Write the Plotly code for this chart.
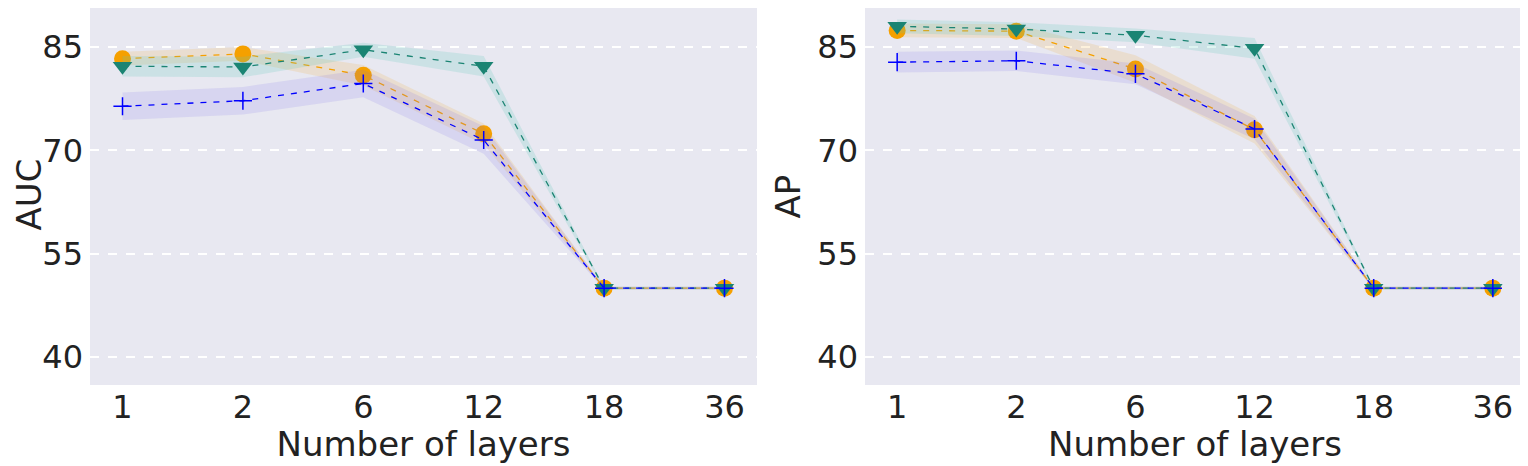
import plotly.graph_objects as go

layers = ["1", "2", "6", "12", "18", "36"]

# AUC panel
auc_orange = [83.3, 84.0, 80.9, 72.4, 50.0, 50.0]
auc_orange_sd = [1.0, 1.0, 1.5, 1.5, 0.2, 0.2]
auc_teal = [82.2, 82.1, 84.6, 82.2, 50.0, 50.0]
auc_teal_sd = [1.5, 1.5, 1.0, 1.5, 0.2, 0.2]
auc_blue = [76.4, 77.2, 79.7, 71.5, 50.0, 50.0]
auc_blue_sd = [2.0, 2.0, 2.0, 2.0, 0.2, 0.2]

# AP panel
ap_orange = [87.4, 87.3, 81.8, 73.0, 50.0, 50.0]
ap_orange_sd = [1.0, 1.0, 2.0, 2.0, 0.2, 0.2]
ap_teal = [88.0, 87.6, 86.7, 84.8, 50.0, 50.0]
ap_teal_sd = [1.0, 1.0, 1.0, 1.5, 0.2, 0.2]
ap_blue = [82.8, 83.0, 81.1, 73.1, 50.0, 50.0]
ap_blue_sd = [1.5, 1.5, 1.5, 1.5, 0.2, 0.2]

series_style = {
    "orange": dict(color="#f5a000", fill="rgba(245,170,40,0.16)", symbol="circle", size=17),
    "teal": dict(color="#1b8473", fill="rgba(90,200,185,0.2)", symbol="triangle-down", size=17),
    "blue": dict(color="#0000ff", fill="rgba(110,100,235,0.14)", symbol="cross-thin", size=13),
}

fig = go.Figure()


def add_series(vals, sd, key, xa, ya):
    st = series_style[key]
    lower = [v - s for v, s in zip(vals, sd)]
    upper = [v + s for v, s in zip(vals, sd)]
    fig.add_trace(go.Scatter(x=layers, y=lower, mode="lines", line=dict(width=0),
                             showlegend=False, hoverinfo="skip", xaxis=xa, yaxis=ya))
    fig.add_trace(go.Scatter(x=layers, y=upper, mode="lines", line=dict(width=0),
                             fill="tonexty", fillcolor=st["fill"],
                             showlegend=False, hoverinfo="skip", xaxis=xa, yaxis=ya))
    marker = dict(symbol=st["symbol"], size=st["size"], color=st["color"])
    if st["symbol"] == "cross-thin":
        marker["line"] = dict(color=st["color"], width=1.5)
    fig.add_trace(go.Scatter(x=layers, y=vals, mode="lines+markers",
                             line=dict(color=st["color"], width=1.3, dash="6px,7px"),
                             marker=marker, showlegend=False, xaxis=xa, yaxis=ya))


for vals, sd, key in [(auc_orange, auc_orange_sd, "orange"), (auc_teal, auc_teal_sd, "teal"),
                      (auc_blue, auc_blue_sd, "blue")]:
    add_series(vals, sd, key, "x", "y")
for vals, sd, key in [(ap_orange, ap_orange_sd, "orange"), (ap_teal, ap_teal_sd, "teal"),
                      (ap_blue, ap_blue_sd, "blue")]:
    add_series(vals, sd, key, "x2", "y2")

# page body has an 8px margin, so the figure is sized/offset accordingly
W, H = 1518, 456
font = "DejaVu Sans"
txt = "#222"
xcommon = dict(type="category", range=[-0.27, 5.27], showgrid=False, zeroline=False,
               showline=False, ticks="", ticklabelstandoff=0,
               tickfont=dict(size=32, color=txt, family=font),
               title=dict(text="Number of layers", font=dict(size=34, color=txt, family=font),
                          standoff=2))
ycommon = dict(range=[35.94, 90.66], tickvals=[40, 55, 70, 85], showgrid=True,
               gridcolor="white", gridwidth=1.5, griddash="dash", zeroline=False,
               showline=False, ticks="", ticklabelstandoff=6,
               tickfont=dict(size=32, color=txt, family=font))

fig.update_layout(
    width=W, height=H,
    margin=dict(l=0, r=0, t=0, b=79, autoexpand=False),
    paper_bgcolor="white", plot_bgcolor="#e8e8f1",
    xaxis=dict(domain=[82 / W, 749 / W], anchor="y", **xcommon),
    xaxis2=dict(domain=[857 / W, 1517 / W], anchor="y2", **xcommon),
    yaxis=dict(domain=[0, 1], anchor="x", **ycommon),
    yaxis2=dict(domain=[0, 1], anchor="x2",
                title=dict(text="AP", font=dict(size=34, color=txt, family=font), standoff=6),
                **ycommon),
    annotations=[dict(text="AUC", textangle=-90, xref="paper", yref="paper",
                      x=0, y=0.505, xanchor="left", yanchor="middle", borderpad=0,
                      showarrow=False, font=dict(size=34, color=txt, family=font))],
)

fig.write_html("out.html")
